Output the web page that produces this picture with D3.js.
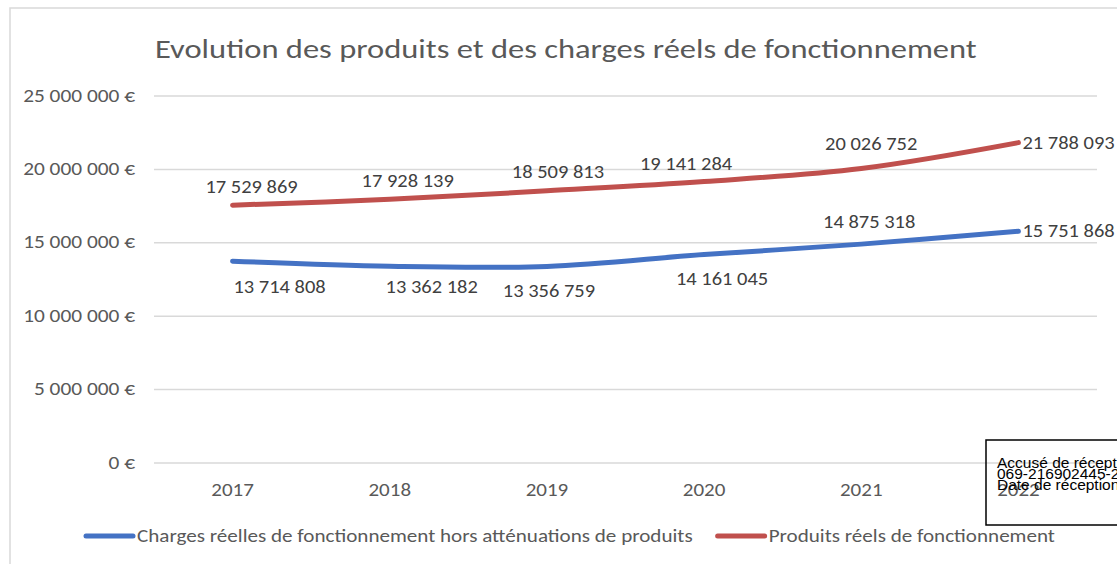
<!doctype html>
<html lang="fr">
<head>
<meta charset="utf-8">
<title>Evolution des produits et des charges</title>
<style>
  body { margin: 0; background: #fff; font-family: Carlito, Calibri, Lato, sans-serif; }
  svg { display: block; }
</style>
</head>
<body>
<svg id="chart" width="1117" height="564"></svg>
<script src="https://cdn.jsdelivr.net/npm/d3@7"></script>
<script>
// data
var years = ["2017", "2018", "2019", "2020", "2021", "2022"];
var charges = [13714808, 13362182, 13356759, 14161045, 14875318, 15751868];
var produits = [17529869, 17928139, 18509813, 19141284, 20026752, 21788093];
var seriesNames = ["Charges réelles de fonctionnement hors atténuations de produits", "Produits réels de fonctionnement"];
var yTicks = [0, 5000000, 10000000, 15000000, 20000000, 25000000];

// label placement (hand-moved labels in the original)
var chargesLabelShift = [[47, 26], [42, 21], [2, 25], [18, 24], [8, -22], ["right", 0]];
var produitsLabelShift = [[19, -18], [18, -18], [11, -19], [-18, -18], [10, -25], ["right", 0]];

var svg = d3.select("#chart");
var plotLeft = 154, plotRight = 1097, plotTop = 95.5, plotBottom = 462.5;
var grey = "#595959";
var colors = ["#4472C4", "#C0504D"];
var font = "Carlito, Calibri, Lato, sans-serif";

var fr = d3.formatLocale({ decimal: ",", thousands: "\u00a0", grouping: [3], currency: ["", "\u00a0€"] });
var fmtNum = fr.format(",d");
var fmtEur = function (d) { return fmtNum(d) + "\u00a0€"; };

// the original font is set wider; widen glyphs a bit
function stretch(sel, k) {
    sel.each(function () {
        var w = this.getComputedTextLength();
        d3.select(this).attr("textLength", w * k).attr("lengthAdjust", "spacingAndGlyphs");
    });
}

// chart frame
svg.append("rect")
    .attr("x", 10).attr("y", 8)
    .attr("width", 1200).attr("height", 700)
    .attr("fill", "#fff")
    .attr("stroke", "#d9d9d9").attr("stroke-width", 1.5);

svg.append("text")
    .attr("x", 155).attr("y", 58)
    .attr("fill", grey)
    .style("font-family", font)
    .style("font-size", "26px")
    .text("Evolution des produits et des charges réels de fonctionnement")
    .call(stretch, 1.25);

var x = d3.scaleBand().domain(years).range([plotLeft, plotRight]);
var y = d3.scaleLinear().domain([0, 25000000]).range([plotBottom, plotTop]);

var yAxis = svg.append("g")
    .attr("transform", "translate(" + plotLeft + ",0)")
    .call(d3.axisLeft(y).tickValues(yTicks).tickFormat(fmtEur)
        .tickSize(-(plotRight - plotLeft)).tickPadding(19));
yAxis.select(".domain").remove();
yAxis.selectAll(".tick line").attr("stroke", "#d9d9d9").attr("stroke-width", 1.5);
yAxis.selectAll(".tick text").attr("fill", grey).style("font-size", "17.5px")
    .style("font-family", font)
    .call(stretch, 1.22);

var xAxis = svg.append("g")
    .attr("transform", "translate(0," + plotBottom + ")")
    .call(d3.axisBottom(x).tickSize(0).tickPadding(21));
xAxis.select(".domain").remove();
xAxis.selectAll(".tick text").attr("fill", grey).style("font-size", "17.5px")
    .style("font-family", font)
    .call(stretch, 1.2);

var line = d3.line()
    .x(function (d, i) { return x(years[i]) + x.bandwidth() / 2; })
    .y(function (d) { return y(d); })
    .curve(d3.curveCatmullRom.alpha(0.5));

var series = [charges, produits];
var shifts = [chargesLabelShift, produitsLabelShift];

series.forEach(function (vals, s) {
    svg.append("path")
        .datum(vals)
        .attr("d", line)
        .attr("fill", "none")
        .attr("stroke", colors[s])
        .attr("stroke-width", 5)
        .attr("stroke-linecap", "round")
        .attr("stroke-linejoin", "round");
});

series.forEach(function (vals, s) {
    svg.append("g").selectAll("text")
        .data(vals)
        .join("text")
        .attr("fill", "#404040")
        .style("font-family", font)
        .style("font-size", "17.5px")
        .attr("dominant-baseline", "central")
        .attr("text-anchor", function (d, i) { return shifts[s][i][0] === "right" ? "start" : "middle"; })
        .attr("x", function (d, i) {
            var cx = x(years[i]) + x.bandwidth() / 2;
            return shifts[s][i][0] === "right" ? cx + 4 : cx + shifts[s][i][0];
        })
        .attr("y", function (d, i) { return y(d) + shifts[s][i][1]; })
        .text(fmtNum)
        .call(stretch, 1.17);
});

// legend
var legend = svg.append("g").attr("transform", "translate(0,536)");
var lx = 86;
seriesNames.forEach(function (name, s) {
    legend.append("line")
        .attr("x1", lx).attr("x2", lx + 47)
        .attr("stroke", colors[s]).attr("stroke-width", 5).attr("stroke-linecap", "round");
    var t = legend.append("text")
        .attr("x", lx + 51)
        .attr("dominant-baseline", "central")
        .attr("fill", grey)
        .style("font-family", font)
        .style("font-size", "17.5px")
        .text(name)
        .call(stretch, 1.205);
    lx = lx + 51 + +t.attr("textLength") + 25;
});

// stamp of the prefecture, partly outside the picture
var stamp = svg.append("g").attr("transform", "translate(986,440)");
stamp.append("rect")
    .attr("width", 300).attr("height", 85)
    .attr("fill", "none").attr("stroke", "#000").attr("stroke-width", 1.5);
var stampLines = ["Accusé de réception en préfecture", "069-216902445-20230000-DE", "Date de réception préfecture"];
stamp.selectAll("text.stamp")
    .data(stampLines)
    .join("text")
    .attr("class", "stamp")
    .attr("x", 11)
    .attr("y", function (d, i) { return 28 + i * 11; })
    .attr("fill", "#000")
    .style("font-family", "'Liberation Sans', Arial, sans-serif")
    .style("font-size", "15.5px")
    .text(function (d) { return d; });
</script>
</body>
</html>
